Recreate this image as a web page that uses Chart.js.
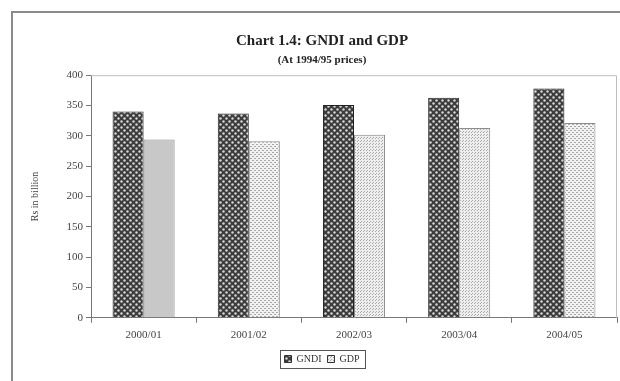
<!DOCTYPE html>
<html>
<head>
<meta charset="utf-8">
<script src="https://cdn.jsdelivr.net/npm/chart.js@4/dist/chart.umd.min.js"></script>
<style>
  html, body { margin: 0; padding: 0; background: #fff; }
  #wrap { width: 620px; height: 381px; }
</style>
</head>
<body>
<div id="wrap"><canvas id="chart"></canvas></div>
<script>
const categories = ["2000/01", "2001/02", "2002/03", "2003/04", "2004/05"]
const gndi = [340, 337, 351, 363, 378]
const gdp = [294, 291, 302, 313, 321]
const yTicks = [0, 50, 100, 150, 200, 250, 300, 350, 400]

const serif = "'Liberation Serif', 'DejaVu Serif', serif"

// little tile patterns, like the Excel fills
function makePattern(size, draw) {
  const c = document.createElement("canvas")
  c.width = size
  c.height = size
  draw(c.getContext("2d"))
  return c.getContext("2d").createPattern(c, "repeat")
}

const darkDots = makePattern(6, (g) => {
  g.fillStyle = "#3c3c3c"
  g.fillRect(0, 0, 6, 6)
  g.fillStyle = "#d8d8d8"
  g.beginPath(); g.arc(1.5, 1.5, 1.2, 0, Math.PI * 2); g.fill()
  g.beginPath(); g.arc(4.5, 4.5, 1.2, 0, Math.PI * 2); g.fill()
})
const lightDash = makePattern(4, (g) => {
  g.fillStyle = "#f2f2f2"
  g.fillRect(0, 0, 4, 4)
  g.fillStyle = "#a8a8a8"
  g.fillRect(0, 0, 2, 1)
  g.fillRect(2, 2, 2, 1)
})
const lightDots = makePattern(3, (g) => {
  g.fillStyle = "#eeeeee"
  g.fillRect(0, 0, 3, 3)
  g.fillStyle = "#aaaaaa"
  g.fillRect(0, 0, 1, 1)
  g.fillRect(1, 2, 1, 1)
})

const frame = {
  id: "frame",
  beforeDraw(chart) {
    const ctx = chart.ctx
    ctx.save()
    ctx.fillStyle = "#fff"
    ctx.fillRect(0, 0, chart.width, chart.height)
    ctx.strokeStyle = "#8a8a8a"
    ctx.lineWidth = 2
    ctx.strokeRect(12, 12, chart.width + 20, chart.height + 20)
    ctx.restore()
  },
  afterDraw(chart) {
    const ctx = chart.ctx
    const a = chart.chartArea
    ctx.save()
    ctx.strokeStyle = "#bdbdbd"
    ctx.lineWidth = 1
    ctx.beginPath()
    ctx.moveTo(a.left, a.top + 0.5)
    ctx.lineTo(a.right - 0.5, a.top + 0.5)
    ctx.lineTo(a.right - 0.5, a.bottom)
    ctx.stroke()
    // border round the legend
    const boxes = chart.legend.legendHitBoxes
    if (boxes.length) {
      const l = Math.min(...boxes.map((b) => b.left)) - 5
      const r = Math.max(...boxes.map((b) => b.left + b.width)) + 5
      const t = boxes[0].top - 4
      const h = boxes[0].height + 8
      ctx.strokeStyle = "#555"
      ctx.strokeRect(Math.round(l) + 0.5, Math.round(t) + 0.5, Math.round(r - l), Math.round(h))
    }
    ctx.restore()
  },
}

new Chart(document.getElementById("chart"), {
  type: "bar",
  data: {
    labels: categories,
    datasets: [
      {
        label: "GNDI",
        data: gndi,
        backgroundColor: darkDots,
        borderColor: "#222",
        borderWidth: 1,
      },
      {
        label: "GDP",
        data: gdp,
        backgroundColor: ["#c8c8c8", lightDash, lightDots, lightDots, lightDash],
        borderColor: "#8c8c8c",
        borderWidth: 1,
      },
    ],
  },
  options: {
    responsive: true,
    maintainAspectRatio: false,
    animation: false,
    layout: { padding: { left: 27, right: 3, top: 0, bottom: 7 } },
    datasets: { bar: { categoryPercentage: 0.59, barPercentage: 1.0 } },
    plugins: {
      title: {
        display: true,
        text: "Chart 1.4: GNDI and GDP",
        color: "#222",
        font: { family: serif, size: 15, weight: "bold" },
        padding: { top: 32, bottom: 4 },
      },
      subtitle: {
        display: true,
        text: "(At 1994/95 prices)",
        color: "#222",
        font: { family: serif, size: 11, weight: "bold" },
        padding: { bottom: 8 },
      },
      legend: {
        position: "bottom",
        labels: {
          boxWidth: 7,
          boxHeight: 7,
          padding: 6,
          color: "#333",
          font: { family: serif, size: 10 },
          generateLabels(chart) {
            const items = Chart.defaults.plugins.legend.labels.generateLabels(chart)
            items[0].fillStyle = darkDots
            items[1].fillStyle = lightDots
            items.forEach((it) => { it.lineWidth = 1; it.strokeStyle = "#333" })
            return items
          },
        },
      },
      tooltip: { enabled: false },
    },
    scales: {
      x: {
        grid: { display: true, drawOnChartArea: false, tickLength: 5, color: "#777" },
        border: { color: "#777" },
        ticks: { color: "#444", padding: 6, font: { family: serif, size: 11 } },
      },
      y: {
        min: 0,
        max: 400,
        afterFit(scale) { scale.width = 64 },
        afterBuildTicks(scale) { scale.ticks = yTicks.map((v) => ({ value: v })) },
        grid: { display: true, drawOnChartArea: false, tickLength: 5, color: "#777" },
        border: { color: "#777" },
        ticks: { color: "#444", padding: 3, font: { family: serif, size: 11 } },
        title: {
          display: true,
          text: "Rs in billion",
          color: "#444",
          padding: 2,
          font: { family: serif, size: 10 },
        },
      },
    },
  },
  plugins: [frame],
})
</script>
</body>
</html>
